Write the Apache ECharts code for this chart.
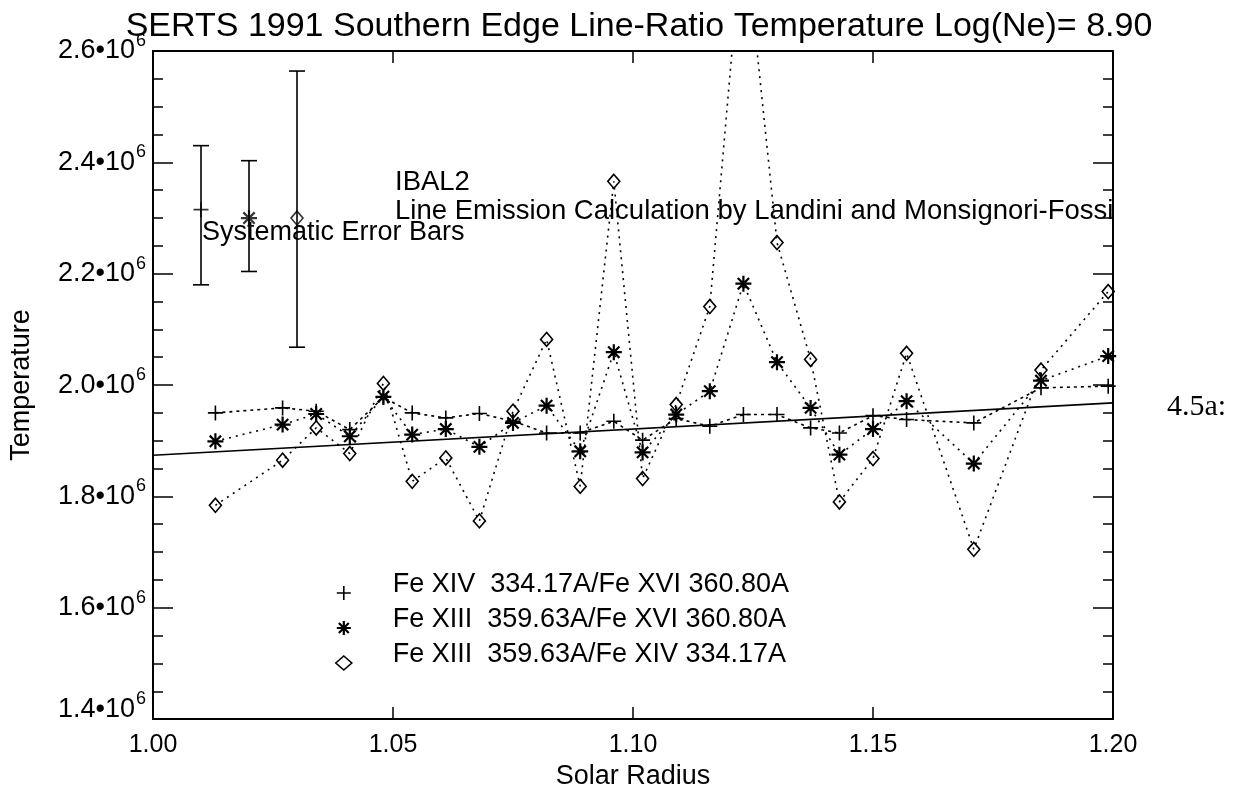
<!DOCTYPE html>
<html>
<head>
<meta charset="utf-8">
<script src="https://cdn.jsdelivr.net/npm/echarts@6/dist/echarts.min.js"></script>
<style>
  html, body { margin: 0; padding: 0; background: #fff; }
  #chart { width: 1238px; height: 795px; }
</style>
</head>
<body>
<div id="chart"></div>
<script>
// Solar radius of each measured position
const radius = [1.013, 1.027, 1.034, 1.041, 1.048, 1.054, 1.061, 1.068, 1.075, 1.082, 1.089, 1.096,
                1.102, 1.109, 1.116, 1.123, 1.130, 1.137, 1.143, 1.150, 1.157, 1.171, 1.185, 1.199];

// Line-ratio temperatures, in units of 10^6 K
const feXIV_feXVI = [1.950, 1.959, 1.953, 1.920, 1.978, 1.950, 1.941, 1.949, 1.935, 1.914, 1.914, 1.935,
                     1.901, 1.940, 1.926, 1.947, 1.947, 1.923, 1.914, 1.945, 1.938, 1.932, 1.995, 1.998];
const feXIII_feXVI = [1.899, 1.929, 1.948, 1.908, 1.979, 1.911, 1.921, 1.889, 1.932, 1.963, 1.881, 2.059,
                      1.879, 1.947, 1.989, 2.182, 2.041, 1.959, 1.875, 1.921, 1.971, 1.859, 2.008, 2.052];
const feXIII_feXIV = [1.784, 1.865, 1.923, 1.877, 2.003, 1.827, 1.869, 1.756, 1.953, 2.082, 1.818, 2.366,
                      1.832, 1.965, 2.141, 2.835, 2.256, 2.046, 1.790, 1.868, 2.057, 1.705, 2.027, 2.168];

// Linear fit across the whole range
const fitRadius = [1.00, 1.20];
const fitTemp = [1.874, 1.968];

// Systematic error bars (one per ratio)
const errRadius = [1.010, 1.020, 1.030];
const errCenter = [2.315, 2.300, 2.300];
const errLow = [2.180, 2.204, 2.068];
const errHigh = [2.430, 2.403, 2.564];

// Axis ticks
const xTicks = { min: 1.00, max: 1.20, step: 0.05 };
const yTicks = { min: 1.4, max: 2.6, step: 0.2 };

const seriesNames = [
  'Fe XIV  334.17A/Fe XVI 360.80A',
  'Fe XIII  359.63A/Fe XVI 360.80A',
  'Fe XIII  359.63A/Fe XIV 334.17A'
];

const FONT = '"Liberation Sans", Arial, Helvetica, sans-serif';
const PLUS = 'path://M0,-10L0,10M-10,0L10,0';
const STAR = 'path://M0,-10L0,10M-10,0L10,0M-7.07,-7.07L7.07,7.07M-7.07,7.07L7.07,-7.07';

const markerStyle = (w) => ({ color: 'rgba(0,0,0,0)', borderColor: '#000', borderWidth: w });

const symbolDefs = [
  { symbol: PLUS, size: 15, width: 1.6 },
  { symbol: STAR, size: 16, width: 2.2 },
  { symbol: 'diamond', size: [12, 14], width: 1.6 }
];
const ratioSeries = [feXIV_feXVI, feXIII_feXVI, feXIII_feXIV];
const dashes = [[3, 4], [2, 5], [2, 5]];

const pairs = (xs, ys) => xs.map((x, i) => [x, ys[i]]);

const series = [];
ratioSeries.forEach((vals, k) => {
  series.push({
    name: seriesNames[k],
    type: 'line',
    data: pairs(radius, vals),
    symbol: symbolDefs[k].symbol,
    symbolSize: symbolDefs[k].size,
    showAllSymbol: true,
    clip: true,
    itemStyle: markerStyle(symbolDefs[k].width),
    lineStyle: { color: '#000', width: 1.6, type: dashes[k] },
    emphasis: { disabled: true },
    z: 3 + k
  });
});

series.push({
  name: 'fit',
  type: 'line',
  data: pairs(fitRadius, fitTemp),
  showSymbol: false,
  symbol: 'none',
  lineStyle: { color: '#000', width: 1.6 },
  emphasis: { disabled: true },
  z: 2
});

// Vertical error bars with caps
series.push({
  name: 'errbars',
  type: 'custom',
  data: errRadius.map((x, i) => [x, errCenter[i], errLow[i], errHigh[i]]),
  renderItem: (params, api) => {
    const lo = api.coord([api.value(0), api.value(2)]);
    const hi = api.coord([api.value(0), api.value(3)]);
    const w = 8;
    const st = { stroke: '#000', lineWidth: 1.6 };
    return {
      type: 'group',
      children: [
        { type: 'line', shape: { x1: hi[0], y1: hi[1], x2: lo[0], y2: lo[1] }, style: st },
        { type: 'line', shape: { x1: hi[0] - w, y1: hi[1], x2: hi[0] + w, y2: hi[1] }, style: st },
        { type: 'line', shape: { x1: lo[0] - w, y1: lo[1], x2: lo[0] + w, y2: lo[1] }, style: st }
      ]
    };
  },
  z: 2
});

// Error bar centre markers
symbolDefs.forEach((d, k) => {
  series.push({
    name: 'errmark' + k,
    type: 'scatter',
    data: [[errRadius[k], errCenter[k]]],
    symbol: d.symbol,
    symbolSize: d.size,
    itemStyle: markerStyle(d.width),
    emphasis: { disabled: true },
    z: 5
  });
});

const axisLineStyle = { color: '#000', width: 2 };
const tickStyle = { color: '#000', width: 1.5 };

// Tick label "x.x•10" with the exponent set on a short line above it
const yLabelRich = {
  e: { fontSize: 18, fontFamily: FONT, color: '#000', lineHeight: 4 },
  b: { fontSize: 27, fontFamily: FONT, color: '#000', lineHeight: 16 },
  sp: { fontSize: 10, lineHeight: 16, width: 11 },
  g: { fontSize: 4, lineHeight: 4 },
  gm: { fontSize: 4, lineHeight: 24 }
};

const option = {
  animation: false,
  backgroundColor: '#fff',
  title: {
    text: 'SERTS 1991 Southern Edge Line-Ratio Temperature Log(Ne)= 8.90',
    left: 634,
    top: 5,
    textAlign: 'center',
    textStyle: { fontFamily: FONT, fontSize: 34, fontWeight: 'normal', color: '#000' }
  },
  grid: { left: 152, right: 125, top: 51, bottom: 75, containLabel: false },
  legend: {
    orient: 'vertical',
    left: 335,
    top: 571,
    padding: 0,
    itemWidth: 16,
    itemHeight: 14,
    itemGap: 0,
    selectedMode: false,
    formatter: '{t|{name}}\n{g|}',
    textStyle: {
      fontFamily: FONT, fontSize: 27, color: '#000',
      rich: {
        t: { fontFamily: FONT, fontSize: 27, color: '#000', lineHeight: 16, padding: [0, 0, 0, 36] },
        g: { fontSize: 10, lineHeight: 17 }
      }
    },
    data: seriesNames.map((n, k) => ({
      name: n,
      icon: symbolDefs[k].symbol,
      itemStyle: markerStyle(symbolDefs[k].width)
    }))
  },
  xAxis: [
    {
      type: 'value', position: 'bottom',
      min: xTicks.min, max: xTicks.max, interval: xTicks.step,
      name: 'Solar Radius', nameLocation: 'middle', nameGap: 43,
      nameTextStyle: { fontFamily: FONT, fontSize: 27, color: '#000' },
      axisLine: { lineStyle: axisLineStyle },
      axisTick: { inside: true, length: 12, lineStyle: tickStyle },
      axisLabel: { margin: 14, fontFamily: FONT, fontSize: 25, color: '#000', formatter: v => v.toFixed(2) },
      splitLine: { show: false }
    },
    {
      type: 'value', position: 'top',
      min: xTicks.min, max: xTicks.max, interval: xTicks.step,
      axisLine: { lineStyle: axisLineStyle },
      axisTick: { inside: true, length: 12, lineStyle: tickStyle },
      axisLabel: { show: false },
      splitLine: { show: false }
    }
  ],
  yAxis: [
    {
      type: 'value', position: 'left',
      min: yTicks.min, max: yTicks.max, interval: yTicks.step,
      name: 'Temperature', nameLocation: 'middle', nameGap: 118, nameRotate: 90,
      nameTextStyle: { fontFamily: FONT, fontSize: 27, color: '#000' },
      axisLine: { lineStyle: axisLineStyle },
      axisTick: { inside: true, length: 20, lineStyle: tickStyle },
      minorTick: { show: true, splitNumber: 4, length: 10, lineStyle: tickStyle },
      axisLabel: {
        margin: 7,
        align: 'right',
        formatter: v => {
          const t = v.toFixed(1);
          const tail = Math.abs(v - yTicks.min) < 1e-9 ? '{gm| }' : '{g| }';
          return `{e|6}\n{b|${t}•10}{sp| }\n${tail}`;
        },
        rich: yLabelRich
      },
      splitLine: { show: false }
    },
    {
      type: 'value', position: 'right',
      min: yTicks.min, max: yTicks.max, interval: yTicks.step,
      axisLine: { lineStyle: axisLineStyle },
      axisTick: { inside: true, length: 20, lineStyle: tickStyle },
      minorTick: { show: true, splitNumber: 4, length: 10, lineStyle: tickStyle },
      axisLabel: { show: false },
      splitLine: { show: false }
    }
  ],
  graphic: [
    { type: 'text', left: 395, top: 168, style: { text: 'IBAL2', font: `27.5px ${FONT}`, fill: '#000' } },
    { type: 'text', left: 395, top: 197, style: { text: 'Line Emission Calculation by Landini and Monsignori-Fossi', font: `27.5px ${FONT}`, fill: '#000' } },
    { type: 'text', left: 202, top: 219, style: { text: 'Systematic Error Bars', font: `27px ${FONT}`, fill: '#000' } },
    { type: 'text', left: 1167, top: 392, style: { text: '4.5a:', font: `30px "Liberation Serif", "DejaVu Serif", serif`, fill: '#000' } }
  ],
  series
};

const chart = echarts.init(document.getElementById('chart'), null, { renderer: 'canvas' });
chart.setOption(option);
</script>
</body>
</html>
